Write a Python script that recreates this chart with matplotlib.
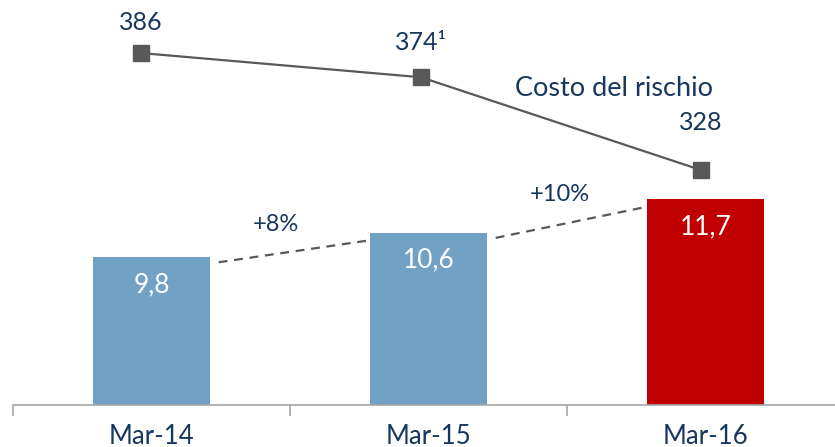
import matplotlib
matplotlib.use("Agg")
import matplotlib.pyplot as plt

plt.rcParams['font.family'] = ['Lato', 'DejaVu Sans']

categories = ["Mar-14", "Mar-15", "Mar-16"]
volumes = [9.8, 10.6, 11.7]
volume_labels = ["9,8", "10,6", "11,7"]
risk_cost = [386, 374, 328]
risk_labels = ["386", "374\u00b9", "328"]
growth_labels = ["+8%", "+10%"]

NAVY = "#17375E"
BLUE = "#71A2C6"
RED = "#C00000"
GREY = "#595959"

fig = plt.figure(figsize=(8.35, 4.47), dpi=100)
pos = [13/835, 42/447, 831/835, 405/447]
ax = fig.add_axes(pos)
x = list(range(len(categories)))
w = 0.425
colors = [BLUE, BLUE, RED]
ax.bar(x, volumes, width=w, color=colors, zorder=2)
ax.set_ylim(4.95, 18.23)
ax.set_xlim(-0.5, 2.5)

for xi, v, lab in zip(x, volumes, volume_labels):
    ax.text(xi, v - 0.9, lab, ha='center', va='center', color='white', fontsize=19)

# dashed growth connectors
label_pos = [(0.449, 10.88), (1.475, 11.84)]
for i in range(len(volumes) - 1):
    x0 = x[i] + w / 2 + 0.03
    x1 = x[i + 1] - w / 2
    y0 = volumes[i] - 0.17
    y1 = volumes[i + 1] - 0.25
    ax.plot([x0, x1], [y0, y1], ls=(0, (4, 3)), color=GREY, lw=1.6, zorder=1)
    ax.text(label_pos[i][0], label_pos[i][1], growth_labels[i],
            ha='center', va='center', color=NAVY, fontsize=17)

for s in ['top', 'right', 'left']:
    ax.spines[s].set_visible(False)
ax.spines['bottom'].set_color('#A6A6A6')
ax.spines['bottom'].set_linewidth(1.2)
ax.set_yticks([])
ax.set_xticks([-0.5, 0.5, 1.5, 2.5])
ax.set_xticklabels([])
ax.tick_params(axis='x', length=8, color='#A6A6A6', width=1.2)
for xi, c in zip(x, categories):
    ax.text(xi, -0.046, c, transform=ax.get_xaxis_transform(), ha='center', va='top',
            color=NAVY, fontsize=18.5, clip_on=False)

ax2 = fig.add_axes(pos)
ax2.patch.set_visible(False)
ax2.plot(x, risk_cost, color=GREY, lw=1.6, marker='s', markersize=11.5,
         markerfacecolor=GREY, markeredgecolor=GREY, zorder=3)
ax2.set_xlim(-0.457, 2.511)
ax2.set_ylim(211.5, 412.3)
ax2.axis('off')
offsets = [15, 17, 23.5]
for xi, v, lab, off in zip(x, risk_cost, risk_labels, offsets):
    ax2.text(xi, v + off, lab, ha='center', va='center',
             color=NAVY, fontsize=18)
ax2.text(1.691, 368.6, "Costo del rischio", ha='center', va='center', color=NAVY, fontsize=19.5)

fig.savefig("out.png", dpi=100)
